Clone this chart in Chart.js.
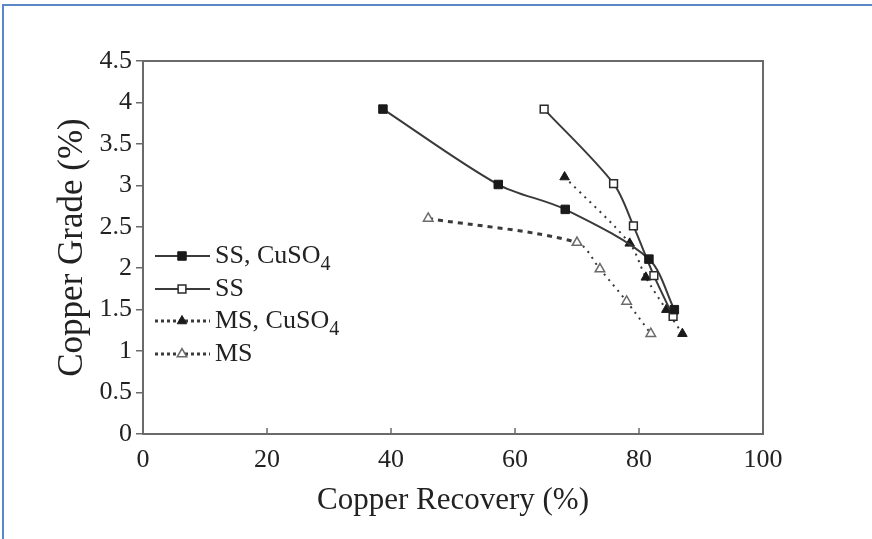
<!DOCTYPE html>
<html>
<head>
<meta charset="UTF-8">
<script src="https://cdn.jsdelivr.net/npm/chart.js@4.4.0/dist/chart.umd.min.js"></script>
<style>
	body { margin: 0; background: #ffffff; }
	#wrap { position: relative; width: 872px; height: 539px; overflow: hidden; }
	#frame { position: absolute; left: 2px; top: 4px; right: -10px; bottom: -10px; border-top: 2px solid #5b87c8; border-left: 2px solid #5b87c8; }
	#graph_grade { position: absolute; left: 0; top: 0; }
</style>
</head>
<body>
<div id="wrap">
	<div id="frame"></div>
	<canvas id="graph_grade" width="872" height="539"></canvas>
</div>
<script>
// 회수율(x) / 품위(y)
let ssCuRecovery = [38.7, 57.3, 68.1, 81.6, 85.7];
let ssCuGrade    = [3.92, 3.01, 2.71, 2.11, 1.50];

let ssRecovery = [64.7, 75.9, 79.1, 82.4, 85.5];
let ssGrade    = [3.92, 3.02, 2.51, 1.91, 1.42];

let msCuRecovery = [68.0, 78.5, 81.1, 84.4, 87.0];
let msCuGrade    = [3.10, 2.30, 1.89, 1.50, 1.21];

let msRecovery = [46.0, 70.0, 73.7, 78.0, 81.9];
let msGrade    = [2.60, 2.31, 1.99, 1.60, 1.21];

// 범례 : [앞부분, 아래첨자]
let legendLabels = [["SS, CuSO", "4"], ["SS", ""], ["MS, CuSO", "4"], ["MS", ""]];

let xTicks = [0, 20, 40, 60, 80, 100];

const SERIF = "'Liberation Serif', 'DejaVu Serif', serif";
const INK = "#222222";
const AXIS = "#6a6a6a";

function toPoints(xs, ys) {
	return xs.map(function(x, i) {
		return { x: x, y: ys[i] };
	});
}

// 축 프레임 + x축 안쪽 눈금
const framePlugin = {
	id: "framePlugin",
	afterDatasetsDraw: function(chart) {
		let ctx = chart.ctx;
		let a = chart.chartArea;
		let xs = chart.scales.x;
		ctx.save();
		ctx.strokeStyle = AXIS;
		ctx.lineWidth = 2;
		ctx.beginPath();
		ctx.moveTo(a.left, a.top);
		ctx.lineTo(a.right, a.top);
		ctx.lineTo(a.right, a.bottom);
		ctx.stroke();
		ctx.lineWidth = 1.5;
		xTicks.forEach(function(v) {
			let px = xs.getPixelForValue(v);
			ctx.beginPath();
			ctx.moveTo(px, a.bottom);
			ctx.lineTo(px, a.bottom - 6);
			ctx.stroke();
		});
		ctx.restore();
	}
};

// 그래프 안쪽 범례
const legendPlugin = {
	id: "legendPlugin",
	afterDraw: function(chart) {
		let ctx = chart.ctx;
		let rows = [256, 289, 321, 354];
		ctx.save();
		chart.data.datasets.forEach(function(ds, i) {
			let y = rows[i];
			ctx.strokeStyle = ds.borderColor;
			ctx.lineWidth = ds.legendWidth;
			ctx.setLineDash(ds.legendDash);
			ctx.beginPath();
			ctx.moveTo(155, y);
			ctx.lineTo(210, y);
			ctx.stroke();
			ctx.setLineDash([]);
			ctx.fillStyle = ds.pointBackgroundColor;
			ctx.strokeStyle = ds.pointBorderColor;
			ctx.lineWidth = ds.pointBorderWidth;
			Chart.helpers.drawPoint(ctx, {
				pointStyle: ds.pointStyle,
				radius: ds.pointRadius,
				borderWidth: ds.pointBorderWidth
			}, 182, y);

			ctx.fillStyle = INK;
			ctx.textBaseline = "middle";
			ctx.textAlign = "left";
			ctx.font = "26px " + SERIF;
			let lab = legendLabels[i];
			ctx.fillText(lab[0], 215, y);
			if (lab[1]) {
				let w = ctx.measureText(lab[0]).width;
				ctx.font = "20px " + SERIF;
				ctx.fillText(lab[1], 215 + w, y + 9);
			}
		});
		ctx.restore();
	}
};

document.addEventListener("DOMContentLoaded", function() {

	let ctx = document.getElementById("graph_grade").getContext("2d");
	let gradeChart = new Chart(ctx, {
		type: "scatter",
		data: {
			datasets: [{
				label: "SS, CuSO4",
				data: toPoints(ssCuRecovery, ssCuGrade),
				showLine: true,
				borderColor: "#3a3a3a",
				borderWidth: 2,
				tension: 0.3,
				pointStyle: "rect",
				pointRadius: 6,
				pointBackgroundColor: "#1a1a1a",
				pointBorderColor: "#1a1a1a",
				pointBorderWidth: 1,
				legendDash: [],
				legendWidth: 2
			}, {
				label: "SS",
				data: toPoints(ssRecovery, ssGrade),
				showLine: true,
				borderColor: "#3a3a3a",
				borderWidth: 2,
				tension: 0.3,
				pointStyle: "rect",
				pointRadius: 5.5,
				pointBackgroundColor: "#ffffff",
				pointBorderColor: "#2a2a2a",
				pointBorderWidth: 1.5,
				legendDash: [],
				legendWidth: 2
			}, {
				label: "MS, CuSO4",
				data: toPoints(msCuRecovery, msCuGrade),
				showLine: true,
				borderColor: "#3a3a3a",
				borderWidth: 2,
				borderDash: [2, 5],
				tension: 0.3,
				pointStyle: "triangle",
				pointRadius: 5.5,
				pointBackgroundColor: "#1a1a1a",
				pointBorderColor: "#1a1a1a",
				pointBorderWidth: 1,
				legendDash: [3, 3],
				legendWidth: 3
			}, {
				label: "MS",
				data: toPoints(msRecovery, msGrade),
				showLine: true,
				borderColor: "#3a3a3a",
				borderWidth: 2,
				borderDash: [2, 5],
				tension: 0.3,
				segment: {
					borderWidth: function(c) { return c.p0DataIndex === 0 ? 3 : 2; },
					borderDash: function(c) { return c.p0DataIndex === 0 ? [5, 5] : [2, 5]; }
				},
				pointStyle: "triangle",
				pointRadius: 5.5,
				pointBackgroundColor: "#ffffff",
				pointBorderColor: "#6a6a6a",
				pointBorderWidth: 1.5,
				legendDash: [3, 3],
				legendWidth: 3
			}]
		},
		options: {
			responsive: false,
			animation: false,
			layout: {
				padding: { left: 0, top: 61, right: 109, bottom: 0 }
			},
			scales: {
				x: {
					type: "linear",
					min: 0,
					max: 100,
					afterBuildTicks: function(scale) {
						scale.ticks = xTicks.map(function(v) { return { value: v }; });
					},
					afterFit: function(scale) { scale.height = 105; },
					grid: { display: true, drawOnChartArea: false, drawTicks: false },
					border: { display: true, color: AXIS, width: 2 },
					ticks: {
						padding: 11,
						color: INK,
						font: { family: SERIF, size: 26 }
					},
					title: {
						display: true,
						text: "Copper Recovery (%)",
						color: INK,
						font: { family: SERIF, size: 31 },
						padding: { top: 0, bottom: 20 }
					}
				},
				y: {
					type: "linear",
					min: 0,
					max: 4.5,
					afterFit: function(scale) { scale.width = 143; },
					grid: { display: true, drawOnChartArea: false, drawTicks: true, tickLength: 7, color: AXIS, lineWidth: 1.5 },
					border: { display: true, color: AXIS, width: 2 },
					ticks: {
						stepSize: 0.5,
						padding: 4,
						color: INK,
						font: { family: SERIF, size: 26 },
						callback: function(value) {
							return String(Math.round(value * 10) / 10);
						}
					},
					title: {
						display: true,
						text: "Copper Grade (%)",
						color: INK,
						font: { family: SERIF, size: 35 },
						padding: { top: 52, bottom: 0 }
					}
				}
			},
			plugins: {
				legend: { display: false },
				tooltip: { enabled: false }
			}
		},
		plugins: [framePlugin, legendPlugin]
	});
});
</script>
</body>
</html>
